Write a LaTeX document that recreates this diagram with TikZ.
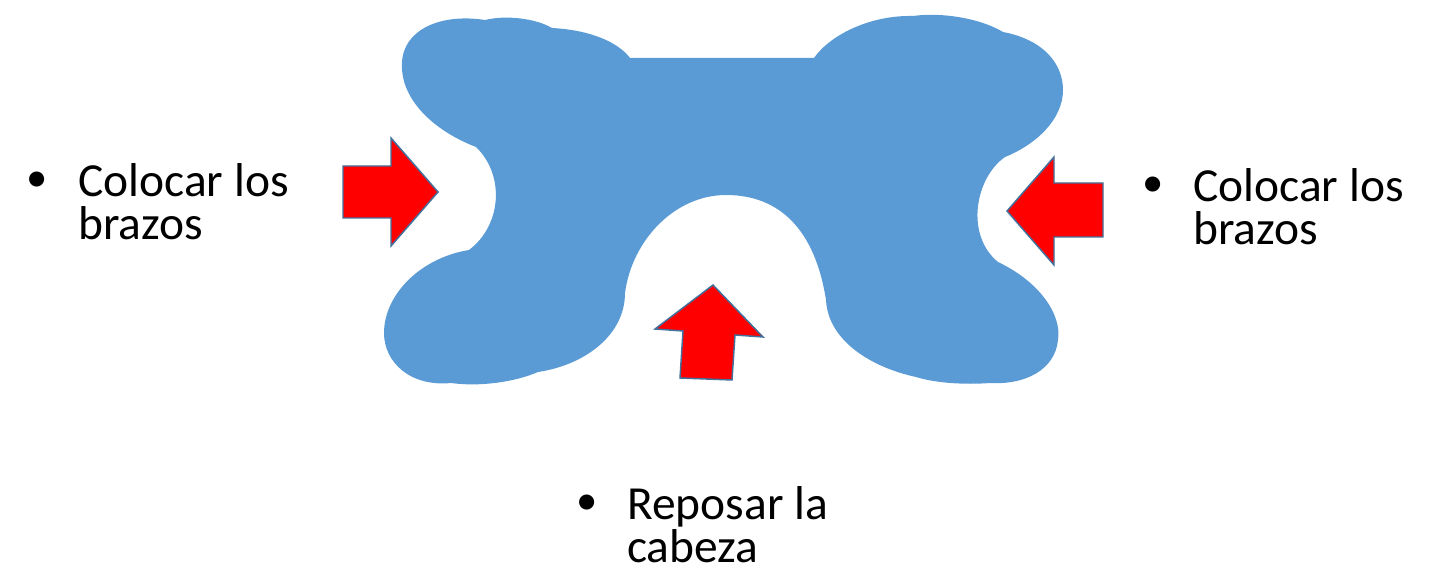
\documentclass[tikz,border=0pt]{standalone}
\usepackage{fontspec}
\setmainfont{Carlito}
\definecolor{blobblue}{RGB}{91,155,213}
\definecolor{arrowedge}{RGB}{65,113,156}
\definecolor{arrowred}{RGB}{255,0,0}
\tikzset{
  blockarrow/.style={fill=arrowred, draw=arrowedge, line width=1.1pt, line join=miter},
  bodytext/.style={font=\fontsize{35.6}{42}\selectfont, inner sep=0pt, anchor=base west},
  bullettext/.style={font=\fontsize{32}{40}\selectfont, inner sep=0pt, anchor=base}
}
\begin{document}
\begin{tikzpicture}[x=0.75pt,y=-0.75pt]
\useasboundingbox (0,0) rectangle (1442,570);
% blob
\fill[blobblue]
  (476,147) .. controls (432,130) and (400,98) .. (402,63)
  .. controls (403,30) and (440,13) .. (485,20)
  .. controls (505,15) and (535,18) .. (552,28)
  .. controls (590,30) and (618,42) .. (630,58)
  -- (814,58)
  .. controls (830,35) and (870,15) .. (913,16)
  .. controls (940,12) and (980,18) .. (1003,32)
  .. controls (1045,40) and (1063,65) .. (1063,90)
  .. controls (1063,120) and (1035,145) .. (1005,157)
  .. controls (975,178) and (965,235) .. (998,262)
  .. controls (1040,282) and (1062,315) .. (1058,340)
  .. controls (1055,370) and (1025,385) .. (990,383)
  .. controls (965,385) and (935,383) .. (916,377)
  .. controls (870,367) and (828,340) .. (826,300)
  .. controls (815,230) and (780,195) .. (726,195)
  .. controls (675,195) and (632,240) .. (625,293)
  .. controls (625,335) and (585,365) .. (538,372)
  .. controls (515,382) and (480,387) .. (451,383)
  .. controls (410,387) and (384,362) .. (384,333)
  .. controls (384,295) and (420,258) .. (469,250)
  .. controls (502,225) and (505,175) .. (476,147)
  -- cycle;
% arrows
\draw[blockarrow] (343,166) -- (391,166) -- (391,138) -- (438,192) -- (391,246) -- (391,218) -- (343,218) -- cycle;
\draw[blockarrow] (1103,183) -- (1054,183) -- (1054,157) -- (1007,211) -- (1054,265) -- (1054,237) -- (1103,237) -- cycle;
\draw[blockarrow] (713,285) -- (763,337) -- (735,335) -- (732,380) -- (680,378) -- (683,331) -- (655,329) -- cycle;
% texts
\node[bullettext] (b1) at (37,192) {•};
\node[bodytext] (t1a) at (78,197) {Colocar los};
\node[bodytext] (t1b) at (78,240) {brazos};
\node[bullettext] (b2) at (1153,197) {•};
\node[bodytext] (t2a) at (1193,202) {Colocar los};
\node[bodytext] (t2b) at (1193,245) {brazos};
\node[bullettext] (b3) at (587,514) {•};
\node[bodytext] (t3a) at (627,519) {Reposar la};
\node[bodytext] (t3b) at (627,562) {cabeza};
\end{tikzpicture}
\end{document}
